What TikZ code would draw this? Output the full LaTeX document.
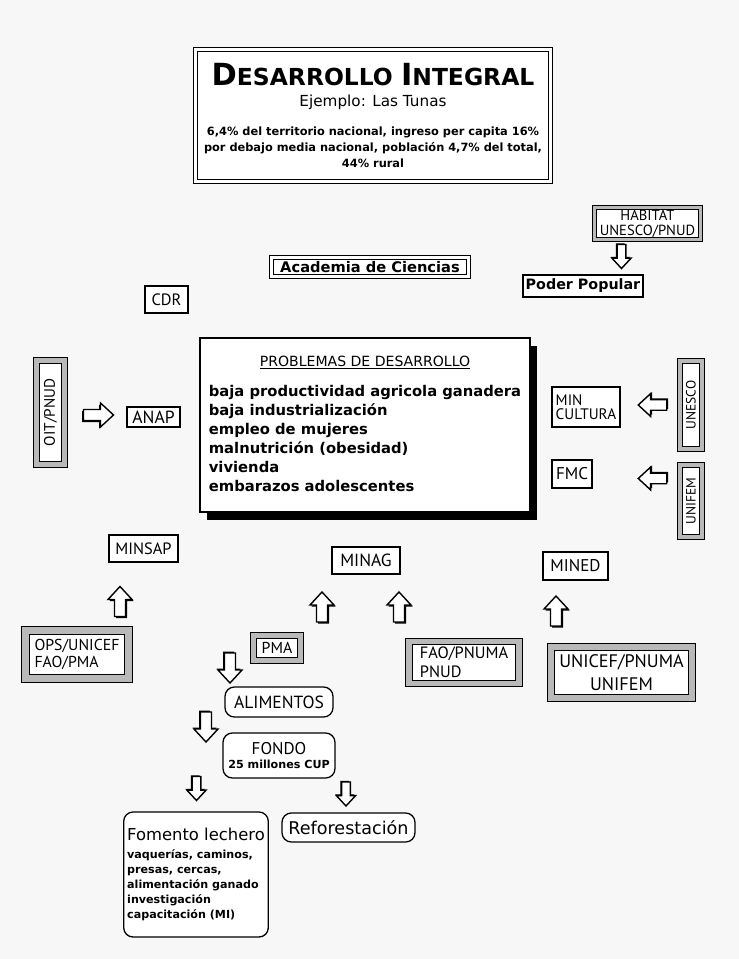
\documentclass[tikz,border=0pt]{standalone}
\usepackage{fontspec}
\setmainfont{PT Sans}
\newfontfamily\dejavu{DejaVu Sans}
\usetikzlibrary{positioning,shapes,shadows}
\newcommand{\pxu}{0.03cm}
\newcommand{\labfont}{\fontsize{13.5}{15}\selectfont}
\tikzset{fat arrow/.pic={
  \fill[black] (-4,-16.5) -- (-4,0.5) -- (-10.5,0.5) -- (1.5,13.5) -- (13.5,0.5) -- (7,0.5) -- (7,-16.5) -- cycle;
  \draw[line width=1.2pt,fill=white] (-5.5,-15) -- (-5.5,2) -- (-12,2) -- (0,15) -- (12,2) -- (5.5,2) -- (5.5,-15) -- cycle;
}}

\begin{document}
\begin{tikzpicture}[x=0.03cm,y=0.03cm,
  plain node/.style={draw,line width=1.1pt,fill=white,inner sep=1pt,font=\labfont},
  double node/.style={draw,line width=0.8pt,double,double distance=2.5pt,fill=white,inner sep=2pt},
  hatch node/.style={draw,line width=0.8pt,double=gray!55,double distance=6pt,fill=white,inner sep=1pt,font=\labfont},
  round node/.style={draw,line width=1.1pt,rounded corners=8pt,fill=white,inner sep=2pt}]
\fill[gray!6] (0,0) rectangle (739,-959);

\node[double node,minimum width=355*\pxu,minimum height=132*\pxu,align=center,font=\dejavu\bfseries\fontsize{9.7}{13.7}\selectfont] (titulo) at (373,-115.5)
  {{\fontsize{26}{26}\selectfont D\fontsize{20}{20}\selectfont ESARROLLO \fontsize{26}{26}\selectfont I\fontsize{20}{20}\selectfont NTEGRAL}\\[4pt]
   {\mdseries\fontsize{13}{15}\selectfont Ejemplo: Las Tunas}\\[11pt]
   6,4\% del territorio nacional, ingreso per capita 16\%\\
   por debajo media nacional, población 4,7\% del total,\\
   44\% rural};

\node[double node,minimum width=197*\pxu,minimum height=19*\pxu,inner sep=0pt,font=\dejavu\bfseries\fontsize{12.5}{15}\selectfont] (academia) at (370,-267) {Academia de Ciencias};
\node[hatch node,double distance=3pt,minimum width=106*\pxu,minimum height=32*\pxu,inner sep=1pt,align=center,font=\fontsize{12.5}{12.5}\selectfont] (habitat) at (647.5,-223.5) {HABITAT\\UNESCO/PNUD};
\node[plain node,minimum width=120*\pxu,minimum height=22*\pxu,inner sep=0pt,font=\dejavu\bfseries\fontsize{12.2}{15}\selectfont] (poder) at (583,-286) {Poder Popular};
\node[plain node,minimum width=43*\pxu,minimum height=27*\pxu,font=\fontsize{14}{15}\selectfont] (cdr) at (166.5,-299.5) {CDR};

\node[draw,line width=1.1pt,fill=white,drop shadow={shadow xshift=6pt,shadow yshift=-7pt,fill=black,opacity=1},
  minimum width=330*\pxu,minimum height=174*\pxu,inner sep=2pt] (problemas) at (365,-425)
  {\dejavu\fontsize{12.6}{16.2}\selectfont\bfseries\begin{tabular}{@{}l@{}}
   \multicolumn{1}{@{}c@{}}{\mdseries\fontsize{12}{16.2}\selectfont\underline{PROBLEMAS DE DESARROLLO}}\\[10pt]
   baja productividad agricola ganadera\\
   baja industrialización\\
   empleo de mujeres\\
   malnutrición (obesidad)\\
   vivienda\\
   embarazos adolescentes
   \end{tabular}};

\node[hatch node,rotate=90,double distance=5pt,minimum width=104*\pxu,minimum height=28*\pxu,font=\fontsize{13}{15}\selectfont] (oit) at (50.5,-412.5) {OIT/PNUD};
\node[plain node,minimum width=53*\pxu,minimum height=20*\pxu,inner sep=0pt,font=\fontsize{15}{15}\selectfont] (anap) at (153.5,-417) {ANAP};
\node[plain node,minimum width=68*\pxu,minimum height=40*\pxu,align=left,font=\fontsize{13}{12}\selectfont] (mincultura) at (586,-407) {MIN\\CULTURA};
\node[hatch node,rotate=90,double distance=3.5pt,minimum width=88*\pxu,minimum height=22*\pxu,inner sep=0pt,font=\fontsize{11.5}{13}\selectfont] (unesco) at (691,-405) {UNESCO};
\node[plain node,minimum width=40*\pxu,minimum height=28*\pxu,font=\fontsize{14.5}{15}\selectfont] (fmc) at (572,-474) {FMC};
\node[hatch node,rotate=90,double distance=3.5pt,minimum width=72*\pxu,minimum height=22*\pxu,inner sep=0pt,font=\fontsize{11.5}{13}\selectfont] (unifem) at (691,-501) {UNIFEM};

\node[plain node,minimum width=69*\pxu,minimum height=27*\pxu,font=\fontsize{14}{15}\selectfont] (minsap) at (143.5,-548.5) {MINSAP};
\node[plain node,minimum width=68*\pxu,minimum height=27*\pxu,font=\fontsize{15}{15}\selectfont] (minag) at (366,-560.5) {MINAG};
\node[plain node,minimum width=65*\pxu,minimum height=28*\pxu,font=\fontsize{14.5}{15}\selectfont] (mined) at (575.5,-566) {MINED};

\node[hatch node,minimum width=103*\pxu,minimum height=48*\pxu,inner xsep=3pt,align=left] (ops) at (77,-654.5) {OPS/UNICEF\\FAO/PMA};
\node[hatch node,double distance=4pt,minimum width=47*\pxu,minimum height=25*\pxu,inner sep=0pt,font=\fontsize{13.5}{15}\selectfont] (pma) at (277,-648) {PMA};
\node[hatch node,double distance=4.5pt,minimum width=110*\pxu,minimum height=42*\pxu,inner xsep=2pt,align=left,font=\fontsize{14}{16}\selectfont] (fao) at (464,-662.5) {FAO/PNUMA\\PNUD};
\node[hatch node,double distance=5pt,minimum width=141*\pxu,minimum height=51*\pxu,align=center,font=\fontsize{15.5}{19}\selectfont] (unicef) at (621.5,-672.5) {UNICEF/PNUMA\\UNIFEM};

\node[round node,minimum width=108*\pxu,minimum height=30*\pxu,font=\fontsize{15}{15}\selectfont] (alimentos) at (279,-702) {ALIMENTOS};
\node[round node,minimum width=112*\pxu,minimum height=45*\pxu,align=center,inner sep=0pt] (fondo) at (279,-755.5)
  {{\fontsize{14.5}{15}\selectfont FONDO}\\{\dejavu\fontsize{9.5}{10}\selectfont\bfseries 25 millones CUP}};
\node[round node,minimum width=142*\pxu,minimum height=125*\pxu,align=left,inner sep=3pt,font=\dejavu\bfseries\fontsize{9.5}{12.8}\selectfont] (fomento) at (196,-874.5)
  {{\mdseries\fontsize{14}{16}\selectfont Fomento lechero}\\[2pt]
   vaquerías, caminos,\\ presas, cercas,\\ alimentación ganado\\ investigación\\ capacitación (MI)};
\node[round node,minimum width=133*\pxu,minimum height=29*\pxu,inner sep=0pt,font=\dejavu\fontsize{15}{16}\selectfont] (reforestacion) at (348.5,-827.5) {Reforestación};

% block arrows
\pic[scale=0.8,rotate=180] at (621.5,-256.5) {fat arrow};
\pic[rotate=-90] at (98.5,-415) {fat arrow};
\pic[scale=0.95,rotate=90] at (652.5,-405) {fat arrow};
\pic[scale=0.95,rotate=90] at (652.5,-478.5) {fat arrow};
\pic at (120,-601.5) {fat arrow};
\pic at (322,-607) {fat arrow};
\pic at (399,-607) {fat arrow};
\pic at (556,-611) {fat arrow};
\pic[rotate=180] at (230,-668) {fat arrow};
\pic[rotate=180] at (206,-727) {fat arrow};
\pic[scale=0.8,rotate=180] at (196.5,-788.5) {fat arrow};
\pic[scale=0.8,rotate=180] at (346,-794) {fat arrow};
\end{tikzpicture}
\end{document}
